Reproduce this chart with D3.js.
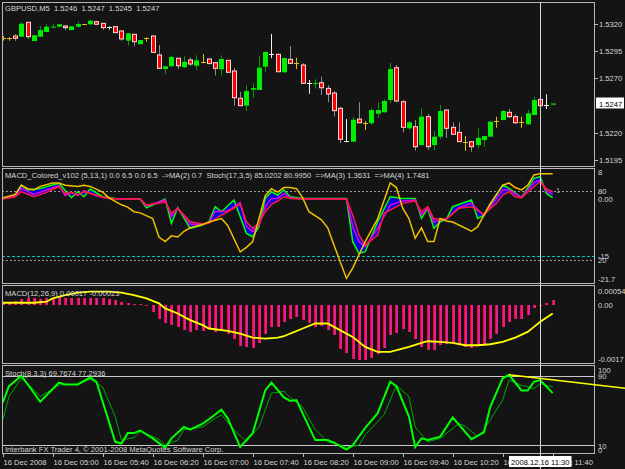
<!DOCTYPE html>
<html><head><meta charset="utf-8">
<script src="https://cdn.jsdelivr.net/npm/d3@7"></script>
<style>
html,body{margin:0;padding:0;background:#141414;}
svg{display:block;}
text{font-family:"Liberation Sans",Arial,sans-serif;font-size:7.6px;fill:#d8d8d8;}
</style></head><body>
<svg id="c" width="625" height="469"></svg>
<script>
// ---------------- DATA ----------------
const header = "GBPUSD,M5  1.5246  1.5247  1.5245  1.5247";
const open  = [1.53069,1.53072,1.53090,1.53084,1.53216,1.53044,1.53084,1.53127,1.53167,1.53176,1.53182,1.53145,1.53176,1.53198,1.53198,1.53222,1.53207,1.53176,1.53176,1.53136,1.53047,1.53106,1.53014,1.53069,1.53090,1.52916,1.52787,1.52812,1.52886,1.52803,1.52870,1.52817,1.52851,1.52879,1.52845,1.52784,1.52867,1.52769,1.52518,1.52450,1.52597,1.52594,1.52808,1.52922,1.52922,1.52757,1.52876,1.52839,1.52824,1.52661,1.52649,1.52661,1.52609,1.52566,1.52426,1.52125,1.52119,1.52327,1.52293,1.52288,1.52376,1.52389,1.52502,1.52799,1.52486,1.52242,1.52257,1.52088,1.52349,1.52088,1.52165,1.52410,1.52251,1.52205,1.52119,1.52119,1.52088,1.52134,1.52165,1.52309,1.52318,1.52389,1.52349,1.52297,1.52279,1.52364,1.52508,1.52456,1.5246];
const high  = [1.53090,1.53078,1.53106,1.53216,1.53219,1.53099,1.53182,1.53200,1.53203,1.53198,1.53191,1.53182,1.53219,1.53200,1.53237,1.53231,1.53210,1.53179,1.53179,1.53142,1.53118,1.53109,1.53053,1.53078,1.53093,1.53007,1.52812,1.52909,1.52888,1.52906,1.52894,1.52913,1.52925,1.52886,1.52851,1.52913,1.52870,1.52796,1.52578,1.52640,1.52656,1.52906,1.52952,1.53109,1.52925,1.52888,1.52998,1.52891,1.52839,1.52686,1.52692,1.52716,1.52637,1.52585,1.52438,1.52327,1.52346,1.52481,1.52309,1.52426,1.52481,1.52511,1.52845,1.52824,1.52502,1.52309,1.52318,1.52426,1.52373,1.52217,1.52456,1.52419,1.52297,1.52297,1.52171,1.52125,1.52242,1.52171,1.52309,1.52349,1.52410,1.52419,1.52370,1.52349,1.52410,1.52532,1.52520,1.52554,1.5247];
const low   = [1.53047,1.53047,1.53047,1.53081,1.53063,1.53044,1.53081,1.53127,1.53167,1.53167,1.53145,1.53145,1.53167,1.53194,1.53191,1.53194,1.53148,1.53148,1.53118,1.53047,1.53001,1.52998,1.53014,1.53038,1.52937,1.52793,1.52738,1.52808,1.52787,1.52796,1.52817,1.52778,1.52839,1.52833,1.52728,1.52728,1.52753,1.52450,1.52447,1.52401,1.52523,1.52594,1.52762,1.52886,1.52759,1.52750,1.52836,1.52787,1.52649,1.52560,1.52609,1.52548,1.52481,1.52349,1.52107,1.52113,1.52119,1.52291,1.52226,1.52275,1.52339,1.52389,1.52472,1.52481,1.52205,1.52226,1.52036,1.52088,1.52043,1.52043,1.52143,1.52155,1.52187,1.52116,1.52036,1.52027,1.52057,1.52073,1.52165,1.52247,1.52318,1.52339,1.52282,1.52247,1.52273,1.52364,1.52447,1.52419,1.5245];
const close = [1.53069,1.53072,1.53069,1.53203,1.53084,1.53097,1.53145,1.53176,1.53176,1.53198,1.53167,1.53179,1.53200,1.53198,1.53231,1.53198,1.53167,1.53176,1.53121,1.53063,1.53115,1.53038,1.53053,1.53069,1.52940,1.52793,1.52812,1.52897,1.52817,1.52854,1.52833,1.52867,1.52851,1.52836,1.52793,1.52879,1.52757,1.52523,1.52450,1.52585,1.52612,1.52799,1.52943,1.52922,1.52762,1.52888,1.52839,1.52839,1.52656,1.52661,1.52658,1.52615,1.52557,1.52404,1.52141,1.52125,1.52321,1.52293,1.52293,1.52410,1.52410,1.52493,1.52787,1.52493,1.52251,1.52297,1.52073,1.52349,1.52073,1.52165,1.52401,1.52242,1.52187,1.52119,1.52119,1.52073,1.52155,1.52171,1.52303,1.52309,1.52401,1.52349,1.52293,1.52297,1.52380,1.52502,1.52450,1.52456,1.5247];
const whiteDoji = [17,43,49,55,87];
const priceTicks = [1.5320,1.5295,1.5270,1.5220,1.5195];
const lastPrice = 1.5247;

const timeLabels = ["16 Dec 2008","16 Dec 05:00","16 Dec 05:40","16 Dec 06:20","16 Dec 07:00","16 Dec 07:40","16 Dec 08:20","16 Dec 09:00","16 Dec 09:40","16 Dec 10:20","16 Dec 11:00","16 Dec 11:40"];
const timeLabelBars = [0,8,16,24,32,40,48,56,64,72,80,88];
const cursorBar = 86, cursorLabel = "2008.12.16 11:30";

// panel 2 : MACD_Colored (bar, value)
const p2Title = "MACD_Colored_v102 (5,13,1) 0.0 6.5 0.0 6.5  ->MA(2) 0.7  Stoch(17,3,5) 85.0202 80.9950  =>MA(3) 1.3631  =>MA(4) 1.7481";
const macdGreen = [[0,0.17],[2,1.05],[3,3.66],[4,2.36],[6,2.79],[9,4.10],[11,0.35],[12,1.92],[13,0.61],[14,2.62],[16,0.61],[18,0.17],[22,0],[23,-2.27],[26,0],[27,-6.37],[28,-2.27],[30,-7.68],[32,-6.81],[33,-5.93],[34,-2.01],[35,-3.32],[37,-0.26],[39,-8.99],[40,-9.86],[41,-7.24],[42,0.17],[43,1.92],[44,1.05],[45,2.36],[46,0.61],[48,0.17],[55,0.17],[56,-11.17],[57,-14.22],[58,-13.79],[60,-5.93],[62,0.61],[64,0.17],[66,0.17],[67,-5.06],[68,-2.44],[69,-7.68],[70,-5.93],[71,-5.24],[72,-2.01],[75,-0.26],[76,-5.06],[77,-4.19],[80,3.66],[81,2.79],[83,0.35],[85,5.41],[86,5.85],[87,1.48],[88,0.35]];
const macdMagenta = [[0,0.17],[2,0.79],[3,2.79],[5,1.22],[7,2.36],[9,3.49],[10,0.87],[11,1.75],[12,0.87],[13,2.18],[15,0.87],[17,0.17],[22,0],[23,-1.83],[26,-0.26],[27,-4.62],[28,-2.44],[30,-6.63],[32,-6.63],[33,-6.11],[34,-3.32],[36,-3.14],[38,-0.87],[39,-7.24],[40,-8.55],[41,-6.81],[42,-2.01],[43,0.17],[44,0.17],[45,1.48],[46,0.35],[48,0],[55,0],[56,-7.24],[57,-11.17],[58,-12.48],[60,-7.68],[62,-1.57],[64,-0.52],[66,-0.26],[67,-4.19],[68,-2.27],[69,-6.11],[70,-5.50],[71,-5.24],[73,-2.27],[75,-1.13],[77,-4.36],[79,0.17],[80,2.36],[81,2.36],[83,0.44],[85,4.36],[86,4.97],[87,2.09],[88,1.22]];
const macdRed = [[0,0],[2,0.61],[3,1.92],[5,0.61],[7,1.75],[9,3.23],[10,1.48],[11,1.75],[12,1.05],[13,1.92],[15,1.05],[16,0.44],[18,0],[22,0],[23,-1.57],[25,-1.13],[26,-0.70],[27,-3.75],[28,-2.44],[30,-5.93],[32,-6.54],[33,-6.37],[35,-4.19],[36,-3.32],[38,-1.40],[39,-5.93],[40,-7.68],[41,-6.37],[42,-3.32],[43,-1.40],[44,-0.52],[45,0.61],[46,0.17],[48,0],[55,0],[56,-4.19],[57,-9.42],[58,-12.04],[60,-9.42],[61,-3.75],[64,-1.13],[66,-0.52],[67,-3.32],[68,-2.01],[69,-5.24],[71,-5.24],[73,-2.44],[75,-2.01],[77,-4.01],[79,-1.13],[80,1.05],[81,1.92],[82,0.61],[83,0.35],[85,3.23],[86,4.54],[87,2.62],[88,1.92]];
const stochYellow = [[0,74],[2,77],[3,85],[4,82],[5,81],[6,84],[8,87],[9,87],[10,85],[12,84],[13,85],[14,84],[16,79],[17,74],[19,68],[20,66],[21,62],[22,61],[24,56],[25,40],[26,36],[27,41],[28,40],[29,45],[30,48],[32,51],[33,53],[35,56],[36,50],[38,27],[39,31],[40,36],[41,56],[42,76],[43,82],[44,79],[45,83],[46,83],[47,82],[48,74],[49,62],[51,55],[52,48],[53,33],[55,4],[56,13],[58,36],[60,56],[62,87],[63,83],[64,65],[65,56],[66,39],[67,48],[68,36],[69,36],[70,56],[71,54],[72,53],[75,45],[76,49],[77,59],[78,69],[80,85],[81,87],[82,83],[83,81],[84,85],[85,94],[86,95],[88,95]];
const p2Levels = {macd:[-15], stoch:[80,20]};

// panel 3 : MACD(12,26,9)
const p3Title = "MACD(12,26,9) 0.00017 -0.00023";
const macdHist = [0.00008,0.0001,0.00013,0.00018,0.0002,0.0002,0.00018,0.0002,0.00022,0.00023,0.00022,0.0002,0.0002,0.00021,0.00022,0.00022,0.0002,0.00019,0.00015,0.0001,0.00006,0.00003,0.00002,-0.00003,-0.0002,-0.00043,-0.00055,-0.0006,-0.00065,-0.00073,-0.0008,-0.00075,-0.00077,-0.0007,-0.0008,-0.00075,-0.00085,-0.001,-0.00123,-0.00125,-0.00128,-0.00112,-0.00085,-0.00065,-0.00065,-0.0005,-0.00043,-0.00035,-0.00045,-0.00053,-0.00065,-0.00063,-0.00073,-0.0009,-0.0013,-0.00143,-0.0016,-0.00165,-0.00165,-0.00158,-0.00145,-0.00128,-0.0009,-0.00082,-0.0007,-0.0008,-0.001,-0.00125,-0.00133,-0.00135,-0.0012,-0.00115,-0.00117,-0.0012,-0.00125,-0.00127,-0.00123,-0.00115,-0.001,-0.00085,-0.00065,-0.0005,-0.00043,-0.00043,-0.0003,-0.0001,0,0.00005,0.00015];
const macdSignal = [[0,0.00007],[5,0.00007],[7,0.0001],[8,0.0002],[10,0.0003],[12,0.00037],[14,0.0004],[17,0.0004],[19,0.00037],[21,0.0003],[23,0.0002],[25,0.00005],[26,-0.0001],[28,-0.00025],[30,-0.00045],[32,-0.0006],[33,-0.0007],[36,-0.00077],[38,-0.00085],[40,-0.00097],[42,-0.001],[44,-0.00097],[45,-0.00093],[46,-0.00085],[48,-0.0007],[50,-0.00055],[52,-0.00055],[53,-0.00065],[56,-0.00095],[58,-0.00125],[60,-0.0014],[62,-0.0014],[65,-0.00125],[67,-0.00113],[68,-0.00108],[70,-0.0011],[72,-0.00113],[74,-0.0012],[76,-0.0012],[78,-0.00117],[80,-0.0011],[82,-0.00097],[84,-0.0008],[85,-0.00065],[86,-0.0005],[88,-0.00025]];
const p3Ticks = [{v:0.00054,t:"0.00054"},{v:0,t:"0.00"},{v:-0.0017,t:"-0.0017"}];

// panel 4 : Stoch(8,3,3)
const p4Title = "Stoch(8,3,3) 69.7674 77.2936";
const stochMain = [[0,59],[1,78],[3,90],[6,60],[9,82],[10,80],[12,80],[14,88],[15,83],[18,14],[19,12],[20,24],[21,24],[22,27],[24,18],[26,7],[27,18],[29,31],[30,28],[32,35],[33,40],[35,51],[36,41],[38,8],[40,24],[42,73],[43,82],[45,65],[46,61],[47,62],[50,16],[52,16],[53,13],[55,5],[56,10],[58,30],[60,47],[62,83],[63,78],[65,43],[66,8],[67,18],[68,16],[70,20],[72,42],[75,17],[77,25],[78,54],[80,87],[81,91],[83,73],[84,73],[85,83],[86,85],[88,70]];
const stochSignal = [[0,39],[1,66],[3,87],[4,81],[6,66],[9,79],[10,80],[12,80],[14,86],[16,77],[18,43],[19,16],[21,19],[22,26],[25,17],[26,10],[28,16],[29,28],[32,31],[34,41],[35,45],[37,28],[39,14],[41,31],[43,70],[45,72],[46,65],[48,54],[50,28],[52,14],[55,8],[57,10],[58,22],[61,45],[63,79],[65,66],[66,31],[68,14],[70,18],[73,35],[74,32],[76,20],[77,28],[80,62],[81,85],[83,79],[85,75],[86,81],[88,77]];
const trendLine = [[81,91],[99.6,75.5]];
const p4Levels = [90,10];
const copyright = "Interbank FX Trader 4, \u00A9 2001-2008 MetaQuotes Software Corp.";

// ---------------- LAYOUT ----------------
const svg = d3.select("#c");
const L = 2, R = 594;
const P = [
  {y0:2, y1:166},
  {y0:168, y1:283},
  {y0:285, y1:363},
  {y0:365, y1:453}
];
const bg = "#141414", frame = "#b8b8b8";
svg.append("rect").attr("width",625).attr("height",469).attr("fill",bg);

const x = d3.scaleLinear().domain([0,88]).range([2.7,552.7]);
const yP = d3.scaleLinear().domain([1.5195,1.5320]).range([160.1,24.05]);
const y2 = d3.scaleLinear().domain([-21.7,8]).range([281.9,168.5]);
const y2s = d3.scaleLinear().domain([0,100]).range([283,168]);
const y3 = d3.scaleLinear().domain([-0.0017,0.00054]).range([362,287]);
const y4 = d3.scaleLinear().domain([0,100]).range([454,367]);

P.forEach(p=>{
  svg.append("rect").attr("x",L+0.5).attr("y",p.y0+0.5).attr("width",R-L).attr("height",p.y1-p.y0)
    .attr("fill","none").attr("stroke",frame).attr("stroke-width",1);
});

const defs = svg.append("defs");
P.forEach((p,i)=>{
  defs.append("clipPath").attr("id","cp"+i).append("rect").attr("x",L+1).attr("y",p.y0+1).attr("width",R-L-1).attr("height",p.y1-p.y0-1);
});

// ---- Panel 1: candles
const g1 = svg.append("g").attr("clip-path","url(#cp0)");
open.forEach((o,i)=>{
  const c = close[i], h = high[i], l = low[i], cx = Math.round(x(i))+0.5;
  let type = c>o ? "up" : (c<o ? "down" : "doji");
  if(type==="doji"){
    const col = whiteDoji.includes(i) ? "#f0f0f0" : "#e0c000";
    g1.append("line").attr("x1",cx).attr("x2",cx).attr("y1",yP(h)).attr("y2",yP(l)).attr("stroke",col);
    g1.append("line").attr("x1",cx-2.5).attr("x2",cx+2.5).attr("y1",Math.round(yP(o))+0.5).attr("y2",Math.round(yP(o))+0.5).attr("stroke",col);
  } else if(type==="up"){
    g1.append("line").attr("x1",cx).attr("x2",cx).attr("y1",yP(h)).attr("y2",yP(l)).attr("stroke","#009a00");
    g1.append("rect").attr("x",cx-2.5).attr("y",yP(c)).attr("width",5).attr("height",Math.max(1,yP(o)-yP(c))).attr("fill","#00ee00");
  } else {
    g1.append("line").attr("x1",cx).attr("x2",cx).attr("y1",yP(h)).attr("y2",yP(l)).attr("stroke","#8c8c8c");
    g1.append("rect").attr("x",cx-2).attr("y",yP(o)).attr("width",4).attr("height",Math.max(1,yP(c)-yP(o))).attr("fill","#ff0000").attr("stroke","#ffd8d8").attr("stroke-width",1);
  }
});
svg.append("text").attr("x",5).attr("y",11).text(header).style("white-space","pre");

priceTicks.forEach(v=>{
  svg.append("line").attr("x1",R).attr("x2",R+4).attr("y1",Math.round(yP(v))+0.5).attr("y2",Math.round(yP(v))+0.5).attr("stroke",frame);
  svg.append("text").attr("x",599).attr("y",yP(v)+3).text(v.toFixed(4));
});
svg.append("rect").attr("x",596).attr("y",yP(lastPrice)-6).attr("width",28).attr("height",11).attr("fill","#ffffff");
svg.append("text").attr("x",599).attr("y",yP(lastPrice)+3).text(lastPrice.toFixed(4)).style("fill","#000");

// ---- Panel 2
const g2 = svg.append("g").attr("clip-path","url(#cp1)");
const lm = d3.line().x(d=>x(d[0])).y(d=>y2(d[1]));
const ls = d3.line().x(d=>x(d[0])).y(d=>y2s(d[1]));
p2Levels.stoch.forEach(v=>{
  g2.append("line").attr("x1",L).attr("x2",R).attr("y1",Math.round(y2s(v))+0.5).attr("y2",Math.round(y2s(v))+0.5).attr("stroke","#9a9a9a").attr("stroke-dasharray","2,2");
});
p2Levels.macd.forEach(v=>{
  g2.append("line").attr("x1",L).attr("x2",R).attr("y1",Math.round(y2(v))+0.5).attr("y2",Math.round(y2(v))+0.5).attr("stroke","#00c8c8").attr("stroke-dasharray","3,2");
});
g2.append("path").attr("d",lm([...macdGreen,...macdRed.slice().reverse()])+"Z").attr("fill","#0000e0").attr("stroke","none");
g2.append("path").attr("d",lm(macdGreen)).attr("fill","none").attr("stroke","#00ff00").attr("stroke-width",1.5);
g2.append("path").attr("d",lm(macdMagenta)).attr("fill","none").attr("stroke","#e000e0").attr("stroke-width",1.5);
g2.append("path").attr("d",lm(macdRed)).attr("fill","none").attr("stroke","#ff1a40").attr("stroke-width",1.5);
g2.append("path").attr("d",ls(stochYellow)).attr("fill","none").attr("stroke","#f0c000").attr("stroke-width",1.5);
svg.append("text").attr("x",5).attr("y",178).text(p2Title).style("white-space","pre");
svg.append("text").attr("x",556).attr("y",193).text("1").style("fill","#a0a0a0");
[{y:172,t:"8"},{y:191,t:"80"},{y:199,t:"0.00"},{y:256,t:"-15"},{y:260,t:"20"},{y:279,t:"-21.7"}].forEach(d=>{
  svg.append("text").attr("x",598).attr("y",d.y+3).text(d.t);
});

// ---- Panel 3
const g3 = svg.append("g").attr("clip-path","url(#cp2)");
const pat = defs.append("pattern").attr("id","mix").attr("width",2).attr("height",2).attr("patternUnits","userSpaceOnUse");
pat.append("rect").attr("width",2).attr("height",2).attr("fill","#c020d0");
pat.append("rect").attr("x",0).attr("y",0).attr("width",1).attr("height",1).attr("fill","#ff2060");
pat.append("rect").attr("x",1).attr("y",1).attr("width",1).attr("height",1).attr("fill","#ff2060");
macdHist.forEach((v,i)=>{
  const cx = Math.round(x(i));
  const yA = Math.round(y3(Math.max(0,v))), yB = Math.round(y3(Math.min(0,v)));
  g3.append("rect").attr("x",cx-1).attr("y",yA).attr("width",1).attr("height",Math.max(1,yB-yA)).attr("fill","#ff0020");
  g3.append("rect").attr("x",cx).attr("y",yA).attr("width",2).attr("height",Math.max(1,yB-yA)).attr("fill","url(#mix)");
});
g3.append("path").attr("d",d3.line().x(d=>x(d[0])).y(d=>y3(d[1]))(macdSignal)).attr("fill","none").attr("stroke","#ffff00").attr("stroke-width",1.8);
svg.append("text").attr("x",5).attr("y",296).text(p3Title);
p3Ticks.forEach(d=>{
  const yy = Math.min(Math.max(y3(d.v),291),359);
  svg.append("text").attr("x",598).attr("y",yy+3).text(d.t);
});

// ---- Panel 4
const g4 = svg.append("g").attr("clip-path","url(#cp3)");
p4Levels.forEach(v=>{
  g4.append("line").attr("x1",L).attr("x2",R).attr("y1",Math.round(y4(v))+0.5).attr("y2",Math.round(y4(v))+0.5).attr("stroke","#c8c8c8");
});
const l4 = d3.line().x(d=>x(d[0])).y(d=>y4(d[1]));
g4.append("path").attr("d",l4(stochSignal)).attr("fill","none").attr("stroke","#00a800").attr("stroke-width",1);
g4.append("path").attr("d",l4(stochMain)).attr("fill","none").attr("stroke","#00ff00").attr("stroke-width",2);
svg.append("path").attr("d",l4(trendLine)).attr("fill","none").attr("stroke","#ffff00").attr("stroke-width",1.5);
svg.append("text").attr("x",5).attr("y",376).text(p4Title);
svg.append("text").attr("x",5).attr("y",452).text(copyright);
[{y:370,t:"100"},{y:375.5,t:"90"},{y:445.5,t:"10"},{y:450,t:"0"}].forEach(d=>{
  svg.append("text").attr("x",598).attr("y",d.y+3).text(d.t);
});

// ---- cursor
svg.append("line").attr("x1",Math.round(x(cursorBar))+0.5).attr("x2",Math.round(x(cursorBar))+0.5).attr("y1",2).attr("y2",469).attr("stroke","#d8d8d8");

// ---- time axis
timeLabelBars.forEach((b,i)=>{
  const tx = Math.round(x(b))+0.5;
  svg.append("line").attr("x1",tx).attr("x2",tx).attr("y1",453).attr("y2",457).attr("stroke",frame);
  const t = svg.append("text").attr("x",tx).attr("y",465).text(timeLabels[i]);
  const w = t.node().getComputedTextLength();
  if(tx+w>593) t.attr("x",593).attr("text-anchor","end");
});
const cx0 = Math.round(x(cursorBar));
const ct = svg.append("text").attr("x",cx0-29).attr("y",465).text(cursorLabel).style("fill","#000");
const cw = ct.node().getComputedTextLength();
svg.insert("rect","text:last-child").attr("x",cx0-31).attr("y",456).attr("width",cw+4).attr("height",11).attr("fill","#ffffff");
</script>
</body></html>
